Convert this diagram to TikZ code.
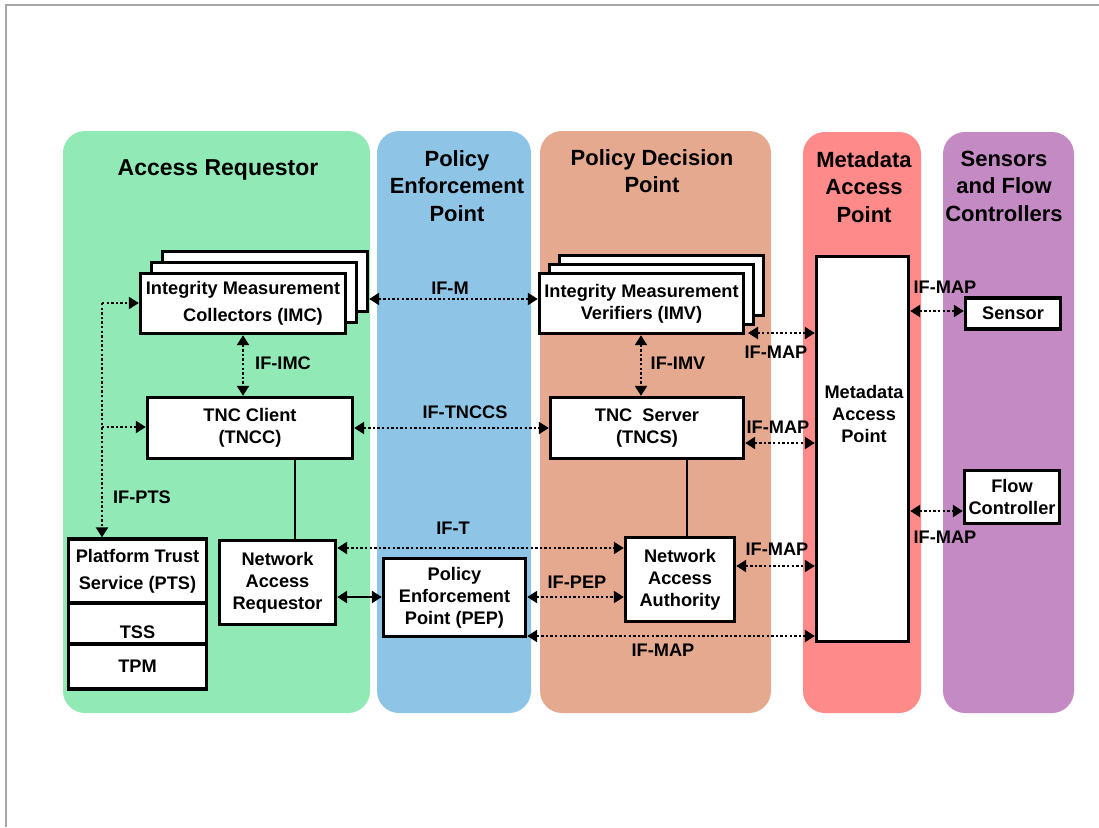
\documentclass[tikz,border=0pt]{standalone}
\usepackage{fontspec}
\setmainfont{Liberation Sans}
\usetikzlibrary{arrows.meta}
\definecolor{colgreen}{RGB}{145,234,181}
\definecolor{colblue}{RGB}{142,197,230}
\definecolor{colsalmon}{RGB}{229,169,144}
\definecolor{colred}{RGB}{255,138,138}
\definecolor{colpurple}{RGB}{196,138,196}
\newcommand{\boxfont}{\fontsize{18.2}{22}\selectfont\bfseries}
\newcommand{\headfont}{\fontsize{22}{27.5}\selectfont\bfseries}
\begin{document}
\begin{tikzpicture}[x=1pt,y=-1pt,
  col/.style={rounded corners=22pt},
  box/.style={draw, line width=3.4pt, fill=white, inner sep=0pt, align=center, font=\boxfont},
  lab/.style={font=\boxfont, inner sep=0pt},
  head/.style={font=\headfont, align=center, inner sep=0pt},
  tri/.tip={Triangle[length=10pt,width=12pt]},
  dotline/.style={line width=2.3pt, dash pattern=on 2.3pt off 2.3pt},
  dotarr/.style={dotline, tri-tri},
  solidline/.style={line width=1.5pt},
  solidarr/.style={line width=2.6pt, tri-tri}]
\useasboundingbox (0,0) rectangle (1099,827);
\fill[white] (0,0) rectangle (1099,827);
\draw[gray!70, line width=1.3pt] (6,827) -- (6,5) -- (1099,5);

% columns
\fill[colgreen, col] (63,131) rectangle (370,713);
\fill[colblue, col] (377,131) rectangle (531,713);
\fill[colsalmon, col] (540,131) rectangle (771,713);
\fill[colred, col] (803,132) rectangle (921,713);
\fill[colpurple, col] (943,132) rectangle (1074,713);

% headers
\node[head, font=\fontsize{23}{27.5}\selectfont\bfseries] (hAR) at (218,170) {Access Requestor};
\node[head] (hPEP) at (457,186) {Policy\\Enforcement\\Point};
\node[head] (hPDP) at (652,171) {Policy Decision\\Point};
\node[head] (hMAP) at (864,187) {Metadata\\Access\\Point};
\node[head] (hSFC) at (1004,186) {Sensors\\and Flow\\Controllers};

% IMC stack
\node[box, minimum width=205pt, minimum height=60pt] (imcb2) at (265,281.5) {};
\node[box, minimum width=205pt, minimum height=60pt] (imcb1) at (254,292.5) {};
\node[box, minimum width=205pt, minimum height=60pt] (imc) at (243,303.5) {Integrity Measurement\\[5pt]\hspace*{20pt}Collectors (IMC)};

% IMV stack
\node[box, minimum width=204pt, minimum height=60pt] (imvb2) at (661.5,285.5) {};
\node[box, minimum width=204pt, minimum height=60pt] (imvb1) at (651.5,294.5) {};
\node[box, minimum width=204pt, minimum height=60pt] (imv) at (641.5,303.5) {Integrity Measurement\\Verifiers (IMV)};

% TNCC / TNCS
\node[box, minimum width=205pt, minimum height=61pt] (tncc) at (250,428) {TNC Client\\(TNCC)};
\node[box, minimum width=193pt, minimum height=61pt] (tncs) at (647,428) {TNC\ \ Server\\(TNCS)};

% PTS stack
\node[box, minimum width=138pt, minimum height=64pt] (pts) at (137.5,571) {Platform Trust\\[5pt]Service (PTS)};
\node[box, minimum width=138pt, minimum height=41pt] (tss) at (137.5,623.5) {};
\node[box, minimum width=138pt, minimum height=45pt] (tpm) at (137.5,666.5) {TPM};
\node[lab] (tsslab) at (137.5,632) {TSS};

% NAR, PEP, NAA
\node[box, minimum width=116pt, minimum height=84pt] (nar) at (277.5,582.5) {Network\\Access\\Requestor};
\node[box, minimum width=142pt, minimum height=78pt] (pep) at (454.5,597.5) {Policy\\Enforcement\\Point (PEP)};
\node[box, minimum width=109pt, minimum height=84pt] (naa) at (680,579.5) {Network\\Access\\Authority};

% MAP
\node[box, minimum width=92pt, minimum height=385pt] (map) at (862.5,449) {};
\node[lab, align=center] (maplab) at (864,414) {Metadata\\Access\\Point};

% Sensor / Flow controller
\node[box, minimum width=95pt, minimum height=31pt] (sensor) at (1013,313.5) {Sensor};
\node[box, minimum width=95pt, minimum height=53pt] (flow) at (1012,497) {Flow\\Controller};

% helper coordinates
\coordinate (yM) at (0,299);
\coordinate (yTNCCS) at (0,428);
\coordinate (xIMC) at (243,0);
\coordinate (xIMV) at (641,0);
\coordinate (ptsTop) at (102,303);
\coordinate (ptsMid) at (102,427);
\coordinate (xA) at (295,0);
\coordinate (xB) at (687,0);
\coordinate (yT) at (0,548);
\coordinate (yPEP) at (0,597);
\coordinate (yPM) at (0,636);
\coordinate (yNM) at (0,566);
\coordinate (ySM) at (0,443);
\coordinate (yVM) at (0,333);
\coordinate (ySen) at (0,311);
\coordinate (yFlow) at (0,511);
\coordinate (imvR) at (748,333);

% connectors
\draw[dotarr] (imcb2.east |- yM) -- (imv.west |- yM);
\draw[dotarr] (tncc.east |- yTNCCS) -- (tncs.west |- yTNCCS);
\draw[dotarr] (imc.south -| xIMC) -- (tncc.north -| xIMC);
\draw[dotarr] (imv.south -| xIMV) -- (tncs.north -| xIMV);
\draw[dotline, -tri] (ptsTop) -- (imc.west |- ptsTop);
\draw[dotline, -tri] (ptsTop) -- (pts.north -| ptsTop);
\draw[dotline, -tri] (ptsMid) -- (tncc.west |- ptsMid);
\draw[solidline] (tncc.south -| xA) -- (nar.north -| xA);
\draw[solidline] (tncs.south -| xB) -- (naa.north -| xB);
\draw[dotarr] (nar.east |- yT) -- (naa.west |- yT);
\draw[solidarr] (nar.east |- yPEP) -- (pep.west |- yPEP);
\draw[dotarr] (pep.east |- yPEP) -- (naa.west |- yPEP);
\draw[dotarr] (pep.east |- yPM) -- (map.west |- yPM);
\draw[dotarr] (naa.east |- yNM) -- (map.west |- yNM);
\draw[dotarr] (tncs.east |- ySM) -- (map.west |- ySM);
\draw[dotarr] (imvR) -- (map.west |- yVM);
\draw[dotarr] (map.east |- ySen) -- (sensor.west |- ySen);
\draw[dotarr] (map.east |- yFlow) -- (flow.west |- yFlow);

% labels
\node[lab] (lM) at (450,288) {IF-M};
\node[lab] (lTNCCS) at (465,412) {IF-TNCCS};
\node[lab] (lIMC) at (283,363) {IF-IMC};
\node[lab] (lIMV) at (678,363) {IF-IMV};
\node[lab] (lPTS) at (142,497) {IF-PTS};
\node[lab] (lT) at (453,528) {IF-T};
\node[lab] (lPEP) at (577,582) {IF-PEP};
\node[lab] (lMAP1) at (663,650) {IF-MAP};
\node[lab] (lMAP2) at (777,549) {IF-MAP};
\node[lab] (lMAP3) at (778,427) {IF-MAP};
\node[lab] (lMAP4) at (776,352) {IF-MAP};
\node[lab] (lMAP5) at (945,287) {IF-MAP};
\node[lab] (lMAP6) at (945,537) {IF-MAP};
\end{tikzpicture}
\end{document}
